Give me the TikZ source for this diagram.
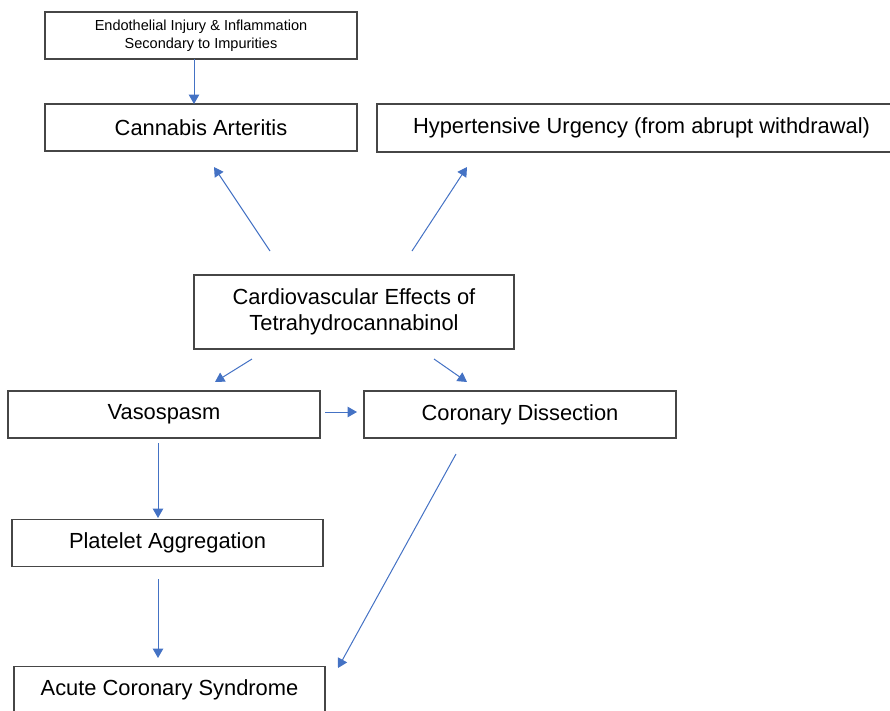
\documentclass[tikz,border=0pt]{standalone}
\usepackage{fontspec}
\setmainfont{Liberation Sans}
\usetikzlibrary{arrows.meta}
\definecolor{arrowblue}{RGB}{68,114,196}
\definecolor{boxline}{RGB}{70,70,70}
\tikzset{
  box/.style={draw=boxline, line width=0.8pt, fill=white, inner sep=0pt, align=center,
    font=\fontsize{16.4}{20}\selectfont, text=black},
  smallbox/.style={box, font=\fontsize{10.9}{13.5}\selectfont},
  conn/.style={draw=arrowblue, line width=0.75pt, -{Triangle[length=7pt,width=7.8pt]}},
}
\begin{document}
\begin{tikzpicture}[x=0.75pt,y=-0.75pt]
\useasboundingbox (0,0) rectangle (890,711);
% boxes
\node[smallbox, minimum width=234pt, minimum height=35.25pt] (endo) at (201,35.5)
  {Endothelial Injury \& Inflammation\\Secondary to Impurities};
\node[box, minimum width=234pt, minimum height=35.25pt] (canna) at (201,127.5) {Cannabis Arteritis};
\node[box, minimum width=396.75pt, minimum height=36pt] (hyper) at (641.5,128) {Hypertensive Urgency (from abrupt withdrawal)};
\node[box, minimum width=240pt, minimum height=55.5pt] (cardio) at (354,312) {Cardiovascular Effects of\\Tetrahydrocannabinol};
\node[box, minimum width=234pt, minimum height=35.25pt] (vaso) at (164,414.5) {Vasospasm};
\node[box, minimum width=234pt, minimum height=35.25pt] (coro) at (520,414.5) {Coronary Dissection};
\node[box, minimum width=233.25pt, minimum height=35.25pt] (plat) at (167.5,543) {Platelet Aggregation};
\node[box, minimum width=233.25pt, minimum height=35.25pt] (acs) at (169.5,690) {Acute Coronary Syndrome};
% connector ends
\coordinate (a1s) at (194,59);  \coordinate (a1e) at (194,104);
\coordinate (a2s) at (270,251); \coordinate (a2e) at (214,167);
\coordinate (a3s) at (412,251); \coordinate (a3e) at (467,167);
\coordinate (a4s) at (252,359); \coordinate (a4e) at (215,382);
\coordinate (a5s) at (434,359); \coordinate (a5e) at (467,382);
\coordinate (a6s) at (325,412); \coordinate (a6e) at (357,412);
\coordinate (a7s) at (158,443); \coordinate (a7e) at (158,518);
\coordinate (a8s) at (158,579); \coordinate (a8e) at (158,658);
\coordinate (a9s) at (456,454); \coordinate (a9e) at (338,668);
% connectors
\draw[conn] (a1s) -- (a1e);
\draw[conn] (a2s) -- (a2e);
\draw[conn] (a3s) -- (a3e);
\draw[conn] (a4s) -- (a4e);
\draw[conn] (a5s) -- (a5e);
\draw[conn] (a6s) -- (a6e);
\draw[conn] (a7s) -- (a7e);
\draw[conn] (a8s) -- (a8e);
\draw[conn] (a9s) -- (a9e);
\end{tikzpicture}
\end{document}
